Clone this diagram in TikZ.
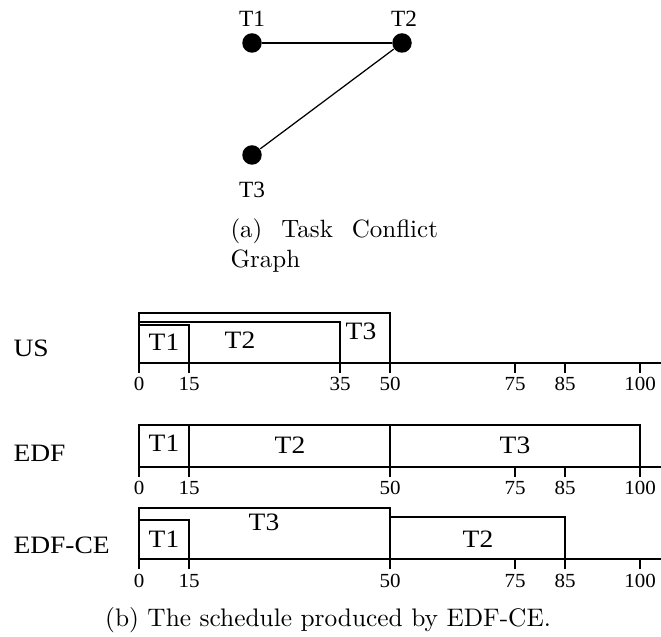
\documentclass[tikz,border=0pt]{standalone}
\usepackage{fontspec}
\newfontfamily\tms{Liberation Serif}
% horizontal positions of the time marks
\def\xa{139}   % 0
\def\xb{189}   % 15
\def\xc{340}   % 35
\def\xd{390}   % 50
\def\xe{515}   % 75
\def\xf{565}   % 85
\def\xg{640}   % 100
\begin{document}
\begin{tikzpicture}[x=0.4pt,y=-0.4pt,
  vtx/.style={circle,fill=black,inner sep=0pt,minimum size=7.8pt},
  edge/.style={line width=0.5pt},
  vlbl/.style={font=\tms\fontsize{9.3}{11}\selectfont,inner sep=0pt},
  bar/.style={draw,line width=0.8pt},
  tlbl/.style={font=\tms\fontsize{10}{12}\selectfont,xscale=1.1,inner sep=0pt},
  rowlbl/.style={font=\tms\fontsize{10}{12}\selectfont,xscale=1.1,inner sep=0pt,anchor=west},
  num/.style={font=\tms\fontsize{8}{9}\selectfont,xscale=1.05,inner sep=0pt},
  captxt/.style={font=\fontsize{10}{12}\selectfont,inner sep=0pt}]
\useasboundingbox (0,0) rectangle (661,637);

% ---- task conflict graph ----
\node[vtx] (t1) at (252,43) {};
\node[vtx] (t2) at (402,43) {};
\node[vtx] (t3) at (252,155) {};
\draw[edge] (t1) -- (t2);
\draw[edge] (t2) -- (t3);
\node[vlbl] (t1l) at (252,19) {T1};
\node[vlbl] (t2l) at (404,19) {T2};
\node[vlbl] (t3l) at (252,190) {T3};
\node[captxt,anchor=base west] (capa1) at (230,238) {\makebox[83pt][s]{(a) Task Conflict}};
\node[captxt,anchor=base west] (capa2) at (230,268) {Graph};

% ---- US ----
\node[rowlbl] (us) at (13,348) {US};
\draw[bar] (\xa,363) rectangle (\xd,313);
\draw[bar] (\xa,363) rectangle (\xc,322);
\draw[bar] (\xa,363) rectangle (\xb,325);
\draw[bar] (\xa,363) -- (661,363);
\foreach \t/\x in {0/\xa,15/\xb,35/\xc,50/\xd,75/\xe,85/\xf,100/\xg}{
  \draw[bar] (\x,363) -- (\x,373);
  \node[num] (us-\t) at (\x,384) {\t};
}
\node[tlbl] (us-a) at (164,342) {T1};
\node[tlbl] (us-b) at (240,340) {T2};
\node[tlbl] (us-c) at (361,331) {T3};

% ---- EDF ----
\node[rowlbl] (edf) at (13,453) {EDF};
\draw[bar] (\xa,467) rectangle (\xb,425);
\draw[bar] (\xb,467) rectangle (\xd,425);
\draw[bar] (\xd,467) rectangle (\xg,425);
\draw[bar] (\xa,467) -- (661,467);
\foreach \t/\x in {0/\xa,15/\xb,50/\xd,75/\xe,85/\xf,100/\xg}{
  \draw[bar] (\x,467) -- (\x,477);
  \node[num] (edf-\t) at (\x,488) {\t};
}
\node[tlbl] (edf-a) at (164,443) {T1};
\node[tlbl] (edf-b) at (290,445) {T2};
\node[tlbl] (edf-c) at (515,445) {T3};

% ---- EDF-CE ----
\node[rowlbl] (ce) at (13,545) {EDF-CE};
\draw[bar] (\xa,559) rectangle (\xd,508);
\draw[bar] (\xd,559) rectangle (\xf,517);
\draw[bar] (\xa,559) rectangle (\xb,520);
\draw[bar] (\xa,559) -- (661,559);
\foreach \t/\x in {0/\xa,15/\xb,50/\xd,75/\xe,85/\xf,100/\xg}{
  \draw[bar] (\x,559) -- (\x,569);
  \node[num] (ce-\t) at (\x,581) {\t};
}
\node[tlbl] (ce-a) at (164,539) {T1};
\node[tlbl] (ce-c) at (264,522) {T3};
\node[tlbl] (ce-b) at (478,539) {T2};

\node[captxt,anchor=base,font=\fontsize{10.15}{12}\selectfont] (capb) at (328,627) {(b) The schedule produced by EDF-CE.};
\end{tikzpicture}
\end{document}
